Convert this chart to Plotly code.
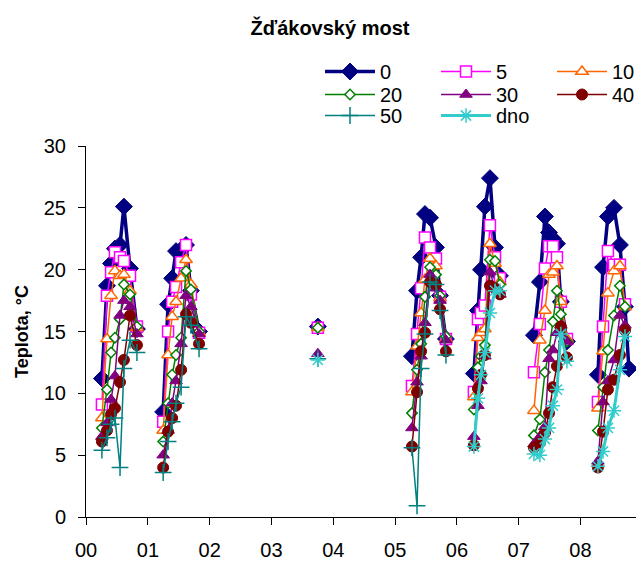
import plotly.graph_objects as go

# Sampling dates, one block per season; None separates the seasons so lines break.
dates = [
    "2000-04-04", "2000-05-04", "2000-05-28", "2000-06-20", "2000-07-20", "2000-08-12", "2000-09-17", "2000-10-28", None,
    "2001-04-01", "2001-04-30", "2001-05-24", "2001-06-16", "2001-07-16", "2001-08-14", "2001-09-12", "2001-10-30", None,
    "2003-10-02", None,
    "2005-04-10", "2005-05-10", "2005-06-03", "2005-06-26", "2005-07-26", "2005-08-30", "2005-09-23", "2005-10-28", None,
    "2006-04-11", "2006-05-05", "2006-05-23", "2006-06-15", "2006-07-15", "2006-08-14", "2006-09-12", None,
    "2007-04-01", "2007-05-06", "2007-06-05", "2007-06-29", "2007-07-22", "2007-08-15", "2007-09-07", "2007-10-13", None,
    "2008-04-13", "2008-05-13", "2008-06-11", "2008-07-17", "2008-08-21", "2008-09-20", "2008-10-13",
]

# Water temperature (deg C) by depth in metres; "dno" = bottom.
t_0 = [
    11.2, 18.7, 20.5, 21.7, 22.0, 25.1, 20.1, 15.2, None,
    8.5, 17.2, 19.3, 21.5, 21.6, 22.0, 18.3, 15.0, None,
    15.4, None,
    13.0, 18.3, 21.0, 24.5, 24.2, 21.8, 17.9, 14.4, None,
    11.6, 16.7, 20.0, 25.1, 27.4, 21.8, 19.5, None,
    14.7, 19.0, 24.3, 23.0, 22.5, 22.1, 17.4, 14.2, None,
    11.5, 20.2, 24.3, 25.0, 22.0, 17.0, 12.0,
]
t_5 = [
    9.1, 17.9, 19.8, 21.4, 21.0, 20.7, 19.5, 15.4, None,
    7.7, 15.0, 17.4, 18.6, 20.6, 22.0, 18.0, 14.9, None,
    15.3, None,
    10.6, 14.8, 18.5, 22.6, 21.8, 20.9, 17.8, 14.4, None,
    10.1, 16.0, 16.5, 17.1, 23.6, 21.0, 19.3, None,
    11.7, 15.6, 20.1, 21.9, 21.9, 21.0, 17.4, 14.4, None,
    9.3, 15.4, 21.5, 20.4, 20.4, 17.2, None,
]
t_10 = [
    8.0, 14.4, 17.9, 19.9, 19.5, 19.6, 18.3, 15.3, None,
    7.0, 13.1, 16.2, 17.4, 19.3, 20.8, 18.8, 14.9, None,
    15.3, None,
    10.1, 13.8, 16.5, 19.2, 20.9, 20.3, 17.7, 14.4, None,
    9.7, 14.5, 14.9, 15.2, 22.1, 20.5, 19.0, None,
    8.6, 14.3, 16.7, 19.6, 19.8, 20.3, 17.4, 14.4, None,
    8.8, 13.4, 18.1, 19.9, 20.3, 17.0, None,
]
t_20 = [
    7.2, 10.3, 13.3, 14.5, 16.0, 18.8, 18.0, 15.4, None,
    6.1, 9.2, 11.5, 13.1, 14.5, 19.9, 18.4, 15.0, None,
    15.3, None,
    8.4, 11.9, 14.0, 17.8, 20.2, 19.6, 17.9, 14.6, None,
    8.7, 12.1, 13.0, 13.9, 20.8, 20.7, 18.8, None,
    6.6, 7.9, 11.7, 13.5, 15.8, 18.3, 16.4, 14.2, None,
    7.0, 10.5, 13.5, 16.3, 18.7, 17.0, None,
]
t_30 = [
    6.5, 7.6, 9.5, 11.4, 16.3, 17.5, 17.0, 14.8, None,
    5.0, 7.0, 9.2, 11.0, 14.0, 17.9, 17.0, 14.8, None,
    13.2, None,
    7.2, 10.9, 13.0, 15.7, 19.6, 18.5, 17.5, 14.3, None,
    6.5, 9.0, 11.0, 13.0, 19.8, 18.5, 18.0, None,
    5.9, 6.5, 7.3, 12.8, 13.5, 14.9, 15.5, 14.2, None,
    4.5, 9.3, 11.0, 12.7, 16.3, 15.5, None,
]
t_40 = [
    6.1, 7.0, 8.3, 8.8, 10.9, 12.7, 16.3, 13.9, None,
    4.0, 6.9, 8.0, 9.0, 11.9, 16.4, 15.7, 14.0, None,
    None, None,
    5.7, 10.1, 13.4, 14.9, 19.0, 18.8, 16.8, 13.4, None,
    5.8, 10.4, 11.5, 13.1, 18.7, 18.5, 18.0, None,
    5.6, 6.0, 6.8, 8.4, 10.5, 12.2, 15.4, 12.9, None,
    4.0, 6.9, 10.3, 11.1, 13.1, 15.1, None,
]
t_50 = [
    5.4, 6.4, 7.5, 8.0, 4.0, 12.0, 14.3, 13.3, None,
    3.6, 6.1, 7.7, 9.2, 10.5, 16.2, 15.5, 13.6, None,
    12.8, None,
    5.6, 0.9, 12.0, 14.8, 19.0, 18.8, 16.7, 13.1, None,
    None, None, None, None, None, None, None, None,
    None, None, None, None, None, None, None, None, None,
    None, None, None, None, None, None, None,
]
t_dno = [
    None, None, None, None, None, None, None, None, None,
    None, None, None, None, None, None, None, None, None,
    12.7, None,
    None, None, None, None, None, None, None, None, None,
    5.7, 9.6, 11.5, 13.3, 16.5, 18.3, 18.3, None,
    5.1, 5.0, 6.3, 7.2, 9.0, 10.3, 14.8, 12.6, None,
    4.1, 5.3, 7.2, 8.6, 11.9, 14.6, None,
]

depth_names = ["0", "5", "10", "20", "30", "40", "50", "dno"]
depth_values = [t_0, t_5, t_10, t_20, t_30, t_40, t_50, t_dno]

# Per-series styling: line colour, line width, marker symbol, marker fill, marker size
styles = [
    dict(color="#000080", width=3.5, symbol="diamond", fill="#000080", size=13, mline=1),
    dict(color="#FF00FF", width=1.5, symbol="square", fill="white", size=11, mline=1.5),
    dict(color="#FF6600", width=1.5, symbol="triangle-up", fill="white", size=11, mline=1.5),
    dict(color="#008000", width=1.5, symbol="diamond", fill="white", size=8, mline=1.5),
    dict(color="#800080", width=1.5, symbol="triangle-up", fill="#800080", size=11, mline=1),
    dict(color="#800000", width=1.5, symbol="circle", fill="#800000", size=11, mline=1),
    dict(color="#008080", width=1.5, symbol="cross-thin", fill="#008080", size=12, mline=1.5),
    dict(color="#33CCCC", width=3, symbol="asterisk", fill="#33CCCC", size=12, mline=1.5),
]
legend_rows = ["legend", "legend", "legend", "legend2", "legend2", "legend2", "legend3", "legend3"]

FONT = "Liberation Sans, Arial, sans-serif"

fig = go.Figure()
for name, vals, st, lg in zip(depth_names, depth_values, styles, legend_rows):
    fig.add_trace(go.Scatter(
        x=dates, y=vals, name=name, mode="lines+markers", legend=lg,
        line=dict(color=st["color"], width=st["width"]),
        marker=dict(symbol=st["symbol"], size=st["size"], color=st["fill"],
                    line=dict(color=st["color"], width=st["mline"])),
        connectgaps=False,
    ))

W, H = 636, 566
legend_common = dict(
    orientation="h", xref="container", yref="container",
    xanchor="left", yanchor="top", itemwidth=50, entrywidth=51,
    font=dict(family=FONT, size=20, color="black"),
    bgcolor="rgba(0,0,0,0)", borderwidth=0, tracegroupgap=0,
    itemclick=False, itemdoubleclick=False,
)

fig.update_layout(
    width=W, height=H,
    margin=dict(l=86, r=0, t=103, b=49),
    paper_bgcolor="white", plot_bgcolor="white",
    font=dict(family=FONT, color="black"),
    title=dict(text="<b>Žďákovský most</b>", x=330 / W, y=1 - 28 / H,
               xref="container", yref="container", xanchor="center", yanchor="middle",
               font=dict(family=FONT, size=20, color="black")),
    legend=dict(legend_common, x=320 / W, y=1 - 52 / H),
    legend2=dict(legend_common, x=320 / W, y=1 - 75 / H),
    legend3=dict(legend_common, x=320 / W, y=1 - 96 / H),
    xaxis=dict(
        type="date", range=["2000-01-01", "2008-11-24"],
        tick0="2000-01-01", dtick="M12", tickformat="%y",
        ticks="outside", ticklen=7, tickcolor="black", tickwidth=1,
        showline=True, linecolor="black", linewidth=1,
        showgrid=False, zeroline=False, ticklabelstandoff=8,
        tickfont=dict(family=FONT, size=20, color="black"),
    ),
    yaxis=dict(
        range=[0, 30], tick0=0, dtick=5,
        ticks="outside", ticklen=7, tickcolor="black", tickwidth=1,
        showline=True, linecolor="black", linewidth=1,
        showgrid=False, zeroline=False, ticklabelstandoff=8,
        tickfont=dict(family=FONT, size=20, color="black"),
        title=dict(text="<b>Teplota, °C</b>", standoff=10,
                   font=dict(family=FONT, size=18, color="black")),
    ),
    showlegend=True,
)

fig.write_html("out.html")
